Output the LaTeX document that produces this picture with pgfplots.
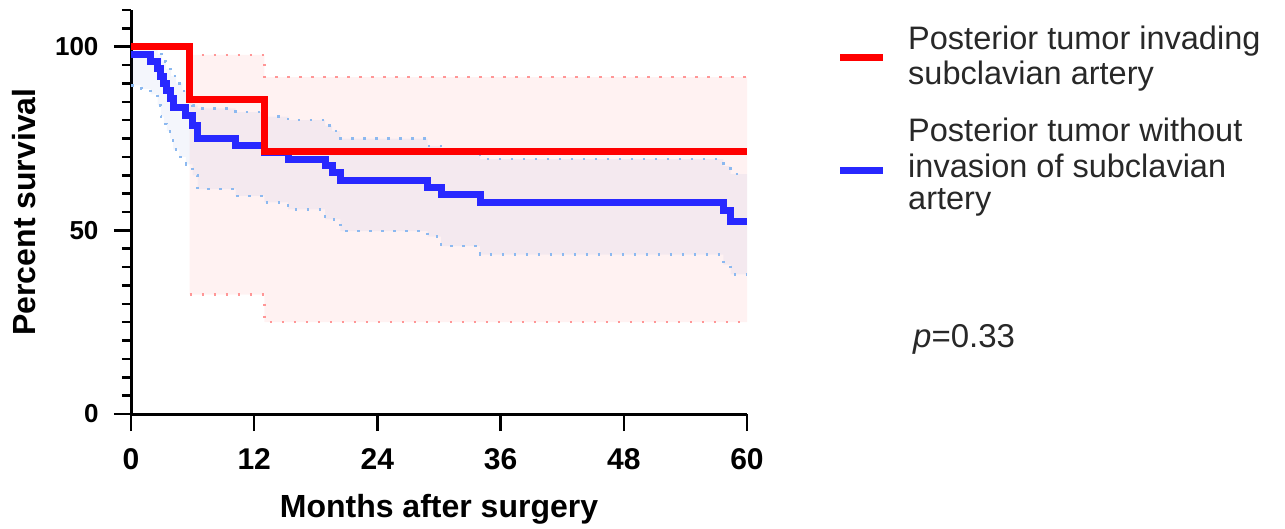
\documentclass[border=0pt]{standalone}
\usepackage{pgfplots}
\pgfplotsset{compat=1.18}
\usepgfplotslibrary{fillbetween}
\usepackage{fontspec}
\setmainfont{Liberation Sans}
\definecolor{kmred}{RGB}{255,0,0}
\definecolor{kmblue}{RGB}{40,40,255}
\definecolor{cired}{RGB}{255,150,150}
\definecolor{ciblue}{RGB}{140,185,240}
\definecolor{legtext}{RGB}{40,40,40}
\definecolor{pinkfill}{RGB}{255,0,0}
\definecolor{bluefill}{RGB}{60,100,200}

\begin{document}
\begin{tikzpicture}
\begin{axis}[
  at={(0pt,0pt)}, anchor=south west,
  scale only axis, width=616pt, height=404pt,
  xmin=0, xmax=60, ymin=0, ymax=110,
  clip=false,
  axis x line*=bottom, axis y line*=left,
  axis line style={line width=3pt, black},
  xtick={0,12,24,36,48,60},
  ytick={0,50,100},
  minor ytick={5,10,...,45,55,60,...,95,105,110},
  tick align=outside,
  major tick length=17pt, minor tick length=9pt,
  every tick/.style={black, line width=2.5pt},
  /pgf/number format/assume math mode=true,
  xticklabel style={font=\bfseries\fontsize{30}{30}\selectfont, yshift=-14pt},
  yticklabel style={font=\bfseries\fontsize{26}{26}\selectfont, xshift=-12pt},
  xlabel={Months after surgery},
  ylabel={Percent survival},
  xlabel style={font=\bfseries\fontsize{32}{32}\selectfont, at={(rel axis cs:0.5,-0.2574)}, anchor=base},
  ylabel style={font=\bfseries\fontsize{32}{32}\selectfont, at={(rel axis cs:-0.155,0.5)}, anchor=base},
  legend style={draw=none},
]
% ---- confidence bands: red group
\addplot[forget plot, draw=none, fill=pinkfill, fill opacity=0.05]
  coordinates {(5.7,97.8) (13,97.8) (13,91.7) (60,91.7) (60,25) (13,25) (13,32.5) (5.7,32.5)} -- cycle;
% ---- confidence bands: blue group
\addplot[forget plot, name path=bu, draw=none, const plot] coordinates {
(0,100) (2.6,98) (3.0,96) (3.4,94) (3.9,92) (4.4,90) (5.0,88) (5.4,86) (6.0,84) (6.5,83.2)
(10.2,82.2) (13,81) (15.3,80) (18.9,78.5) (19.6,77) (20.4,75) (28.9,73) (30.2,71.5)
(34,69.4) (57.7,67.5) (58.4,65.3) (60,65.3)};
\addplot[forget plot, name path=bl, draw=none, const plot] coordinates {
(0,89.5) (1.0,88.5) (1.9,87) (2.6,84) (2.9,81) (3.2,79) (3.5,77) (3.8,75) (4.1,72) (4.7,70) (5.35,68)
(6.0,65) (6.5,61.2) (10.2,59.4) (13,57.6) (15.3,55.7) (18.9,53) (20.4,49.8) (28.9,48.3)
(30.2,45.7) (34,43.4) (57.7,40.7) (58.4,38) (60,38)};
\addplot[forget plot, fill=bluefill, fill opacity=0.06] fill between[of=bu and bl];
% dotted CI lines
\addplot[forget plot, const plot, cired, line width=2.5pt, dash pattern=on 2.5pt off 9.5pt]
  coordinates {(5.7,97.8) (13,91.7) (60,91.7)};
\addplot[forget plot, const plot, cired, line width=2.5pt, dash pattern=on 2.5pt off 9.5pt]
  coordinates {(5.7,32.5) (13,25) (60,25)};
\addplot[forget plot, const plot, ciblue, line width=2.5pt, dash pattern=on 2.5pt off 9.5pt] coordinates {
(0,100) (2.6,98) (3.0,96) (3.4,94) (3.9,92) (4.4,90) (5.0,88) (5.4,86) (6.0,84) (6.5,83.2)
(10.2,82.2) (13,81) (15.3,80) (18.9,78.5) (19.6,77) (20.4,75) (28.9,73) (30.2,71.5)
(34,69.4) (57.7,67.5) (58.4,65.3) (60,65.3)};
\addplot[forget plot, const plot, ciblue, line width=2.5pt, dash pattern=on 2.5pt off 9.5pt] coordinates {
(0,89.5) (1.0,88.5) (1.9,87) (2.6,84) (2.9,81) (3.2,79) (3.5,77) (3.8,75) (4.1,72) (4.7,70) (5.35,68)
(6.0,65) (6.5,61.2) (10.2,59.4) (13,57.6) (15.3,55.7) (18.9,53) (20.4,49.8) (28.9,48.3)
(30.2,45.7) (34,43.4) (57.7,40.7) (58.4,38) (60,38)};
% ---- survival curves
\addplot[const plot, kmblue, line width=7pt, forget plot] coordinates {
(0,98) (1.9,96) (2.6,94) (2.9,92) (3.2,90) (3.5,88) (3.8,86) (4.1,83.5) (5.35,81.2)
(6.0,78.5) (6.5,75) (10.2,73) (13,71.2) (15.3,69.4) (18.9,67.6) (19.6,65.8) (20.4,63.5)
(28.9,61.7) (30.2,59.8) (34,57.6) (57.7,55.3) (58.4,52.5) (60,52.5)};
\addplot[const plot, kmred, line width=7pt, forget plot] coordinates {
(0,100) (5.7,85.7) (13,71.4) (60,71.4)};
% ---- legend (swatches and text)
\draw[kmred, line width=7pt] (rel axis cs:1.151,0.8812) -- ++(43pt,0pt);
\draw[kmblue, line width=7pt] (rel axis cs:1.151,0.6015) -- ++(43pt,0pt);
\begin{scope}[every node/.style={anchor=base west, inner sep=0pt, font=\fontsize{32.5}{35}\selectfont, text=legtext}]
\node at (rel axis cs:1.2614,0.9010) {Posterior tumor invading};
\node at (rel axis cs:1.2614,0.8144) {subclavian artery};
\node at (rel axis cs:1.2614,0.6733) {Posterior tumor without};
\node at (rel axis cs:1.2614,0.5866) {invasion of subclavian};
\node at (rel axis cs:1.2614,0.5050) {artery};
\node[font=\fontsize{33}{35}\selectfont] at (rel axis cs:1.2695,0.1658) {\textit{p}=0.33};
\end{scope}
\end{axis}
\pgfresetboundingbox
\path[use as bounding box] (-131pt,-114pt) rectangle (1154pt,414pt);
\end{tikzpicture}
\end{document}
